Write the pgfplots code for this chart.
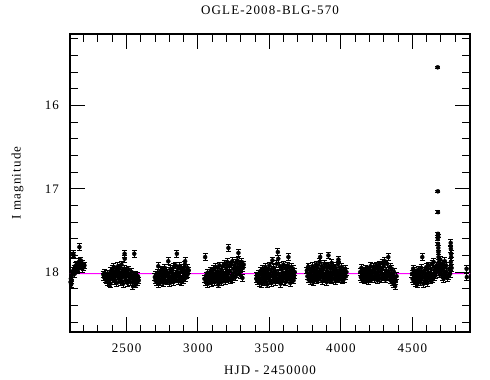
\documentclass[border=0pt]{standalone}
\usepackage{pgfplots}
\pgfplotsset{compat=1.18}
\usepackage{fontspec}
\setmainfont[LetterSpace=9]{Liberation Serif}
\definecolor{modelmag}{rgb}{1,0,1}
\begin{document}
\fontsize{13}{15}\selectfont
\begin{tikzpicture}
\useasboundingbox (-70pt,-48pt) rectangle (420pt,332pt);
\begin{axis}[
  at={(0pt,0pt)}, anchor=south west,
  scale only axis, width=400pt, height=298pt,
  xmin=2104, xmax=4904, ymin=15.14, ymax=18.72, y dir=reverse,
  xtick={2500,3000,3500,4000,4500},
  minor xtick={2200,2300,2400,2600,2700,2800,2900,3100,3200,3300,3400,3600,3700,3800,3900,4100,4200,4300,4400,4600,4700,4800},
  ytick={16,17,18},
  minor ytick={15.2,15.4,15.6,15.8,16.2,16.4,16.6,16.8,17.2,17.4,17.6,17.8,18.2,18.4,18.6},
  tick align=inside, xtick pos=both, ytick pos=both,
  major tick length=15pt, minor tick length=7.5pt,
  axis line style={line width=1.6pt},
  every tick/.style={black, line width=1pt},
  /pgf/number format/assume math mode=true,
  /pgf/number format/set thousands separator={},
  xticklabel style={yshift=-7pt},
  yticklabel style={xshift=-6.5pt},
  clip=true,
]
% model
\addplot[modelmag, line width=1pt] coordinates {(2104,18.02) (4676,18.02) (4677,17.88) (4681,17.88) (4682,18.02) (4904,18.02)};
% baseline photometry
\addplot[only marks, mark=*, mark size=2pt, black,
  error bars/.cd, y dir=both, y fixed=0.04,
  error bar style={line width=1pt, black},
  error mark options={rotate=90, mark size=2.5pt, line width=1pt, black}]
 table[row sep=\\, x=x, y=y] {x y\\
2108 18.12\\ 2110 18.08\\ 2112 18.15\\ 2114 18.05\\ 2116 18.10\\ 2119 18.03\\ 2122 17.99\\ 2126 17.78\\ 2129 17.80\\ 2133 17.96\\ 2137 18.02\\ 2140 17.93\\ 2145 17.97\\ 2150 17.91\\ 2155 17.95\\ 2158 17.98\\ 2165 17.88\\ 2170 17.70\\ 2175 17.93\\ 2180 17.86\\ 2185 17.92\\ 2190 17.96\\ 2195 17.90\\ 2200 17.94\\ 2205 17.92\\
2338 18.03\\ 2342 18.06\\ 2346 18.01\\ 2350 18.08\\ 2354 18.04\\ 2358 18.10\\ 2362 18.05\\ 2366 18.12\\ 2370 18.02\\ 2374 18.07\\ 2378 18.13\\ 2382 18.04\\ 2386 18.14\\ 2390 17.99\\ 2395 18.06\\ 2400 17.96\\ 2404 18.09\\ 2408 18.03\\ 2412 17.94\\ 2416 18.11\\ 2420 18.00\\ 2424 18.05\\ 2428 17.97\\ 2432 18.13\\ 2436 18.02\\ 2440 17.93\\ 2444 18.08\\ 2448 18.01\\ 2452 17.95\\ 2456 18.12\\ 2460 18.04\\ 2464 17.91\\ 2468 18.07\\ 2472 17.98\\ 2476 18.14\\ 2480 18.03\\ 2484 17.96\\ 2486 17.78\\ 2487 17.84\\ 2490 18.06\\ 2494 18.10\\ 2498 17.99\\ 2502 18.05\\ 2506 18.13\\ 2510 18.02\\ 2515 17.97\\ 2520 18.09\\ 2525 18.04\\ 2530 18.12\\ 2535 18.00\\ 2540 18.07\\ 2545 18.17\\ 2550 18.05\\ 2554 17.78\\ 2558 18.10\\ 2562 18.03\\ 2566 18.15\\ 2570 18.08\\ 2575 18.12\\ 2580 18.05\\ 2585 18.10\\
2698 18.06\\ 2702 18.10\\ 2706 18.03\\ 2710 18.12\\ 2714 18.07\\ 2718 18.01\\ 2722 17.93\\ 2724 18.14\\ 2728 18.05\\ 2732 18.09\\ 2736 17.99\\ 2740 18.12\\ 2744 18.04\\ 2748 18.08\\ 2752 17.97\\ 2756 18.13\\ 2760 18.02\\ 2764 18.06\\ 2768 17.95\\ 2772 18.10\\ 2776 18.03\\ 2780 17.99\\ 2784 18.11\\ 2788 18.05\\ 2792 17.87\\ 2796 18.08\\ 2800 18.01\\ 2804 18.13\\ 2808 17.96\\ 2812 18.06\\ 2816 18.10\\ 2820 17.98\\ 2824 18.04\\ 2828 18.12\\ 2832 17.94\\ 2836 18.07\\ 2840 18.02\\ 2844 17.92\\ 2848 18.09\\ 2852 17.78\\ 2856 18.03\\ 2860 17.96\\ 2864 18.11\\ 2868 18.05\\ 2872 17.93\\ 2876 18.08\\ 2880 18.00\\ 2884 18.12\\ 2888 17.95\\ 2892 18.06\\ 2896 18.10\\ 2900 17.97\\ 2904 18.03\\ 2908 17.91\\ 2910 17.87\\ 2914 18.07\\ 2918 17.99\\ 2922 18.04\\ 2926 17.95\\ 2930 18.02\\ 2935 17.98\\
3045 18.08\\ 3050 17.82\\ 3054 18.12\\ 3058 18.04\\ 3062 18.10\\ 3066 18.01\\ 3070 18.14\\ 3074 18.06\\ 3078 18.11\\ 3082 18.03\\ 3086 18.09\\ 3090 17.98\\ 3094 18.13\\ 3098 18.05\\ 3102 18.00\\ 3106 18.10\\ 3110 17.96\\ 3114 18.07\\ 3118 18.12\\ 3122 18.02\\ 3126 17.94\\ 3130 18.08\\ 3134 18.04\\ 3138 17.99\\ 3142 18.15\\ 3146 18.06\\ 3150 17.92\\ 3154 18.10\\ 3158 18.03\\ 3162 17.97\\ 3166 18.12\\ 3170 18.05\\ 3174 17.93\\ 3178 18.08\\ 3182 18.01\\ 3186 17.90\\ 3190 18.11\\ 3194 18.04\\ 3198 17.95\\ 3202 18.09\\ 3206 17.88\\ 3210 18.02\\ 3213 17.71\\ 3216 18.07\\ 3220 17.93\\ 3224 17.99\\ 3228 18.10\\ 3232 17.91\\ 3236 18.04\\ 3240 17.87\\ 3244 18.08\\ 3248 17.96\\ 3252 18.01\\ 3256 17.92\\ 3260 18.06\\ 3264 17.89\\ 3268 17.98\\ 3272 18.03\\ 3276 17.86\\ 3280 17.94\\ 3283 17.77\\ 3287 18.00\\ 3291 17.90\\ 3295 17.97\\ 3299 18.04\\ 3303 17.93\\ 3307 17.88\\ 3311 18.07\\ 3315 17.95\\ 3320 17.91\\
3408 18.08\\ 3412 18.04\\ 3416 18.11\\ 3420 18.06\\ 3424 18.02\\ 3428 18.13\\ 3432 18.07\\ 3436 17.99\\ 3440 18.10\\ 3444 18.03\\ 3448 18.14\\ 3452 17.96\\ 3456 18.08\\ 3460 18.05\\ 3464 18.12\\ 3468 18.00\\ 3472 17.94\\ 3476 18.09\\ 3480 18.04\\ 3484 18.15\\ 3488 17.98\\ 3492 18.07\\ 3496 18.02\\ 3500 17.92\\ 3504 18.11\\ 3508 18.05\\ 3512 17.97\\ 3516 18.13\\ 3521 17.86\\ 3524 18.03\\ 3528 18.09\\ 3532 17.95\\ 3536 18.06\\ 3540 18.12\\ 3544 17.99\\ 3548 18.04\\ 3552 17.90\\ 3556 18.10\\ 3559 17.76\\ 3562 17.84\\ 3566 18.02\\ 3570 18.08\\ 3574 17.93\\ 3578 18.14\\ 3582 18.05\\ 3586 17.97\\ 3590 18.11\\ 3594 18.01\\ 3598 17.91\\ 3602 18.07\\ 3606 18.03\\ 3610 17.95\\ 3614 18.12\\ 3618 18.05\\ 3622 17.98\\ 3626 18.09\\ 3630 17.92\\ 3633 17.82\\ 3637 18.06\\ 3641 17.99\\ 3645 18.13\\ 3649 18.03\\ 3653 17.94\\ 3657 18.08\\ 3661 18.01\\ 3665 17.96\\ 3669 18.10\\ 3673 18.04\\ 3677 18.00\\
3762 17.98\\ 3766 18.05\\ 3770 17.94\\ 3774 18.09\\ 3778 18.02\\ 3782 17.96\\ 3786 18.11\\ 3790 18.04\\ 3794 17.99\\ 3798 18.08\\ 3802 17.93\\ 3806 18.12\\ 3810 18.03\\ 3814 17.97\\ 3818 18.07\\ 3822 18.01\\ 3826 17.91\\ 3830 18.10\\ 3834 18.05\\ 3838 17.95\\ 3842 18.09\\ 3846 18.02\\ 3850 17.88\\ 3855 17.82\\ 3858 18.06\\ 3862 18.00\\ 3866 17.93\\ 3870 18.11\\ 3874 18.04\\ 3878 17.97\\ 3882 18.08\\ 3886 17.90\\ 3890 18.02\\ 3894 18.06\\ 3898 17.94\\ 3902 18.12\\ 3906 17.99\\ 3910 18.05\\ 3913 17.80\\ 3916 17.92\\ 3920 18.09\\ 3924 18.03\\ 3928 17.96\\ 3932 18.10\\ 3936 17.89\\ 3940 18.04\\ 3944 18.00\\ 3948 17.93\\ 3952 18.08\\ 3956 18.02\\ 3960 17.95\\ 3964 18.11\\ 3968 18.05\\ 3972 17.98\\ 3976 18.07\\ 3980 17.91\\ 3983 17.85\\ 3987 18.03\\ 3991 18.09\\ 3995 17.97\\ 3999 18.06\\ 4003 18.01\\ 4007 17.94\\ 4011 18.10\\ 4015 18.04\\ 4019 17.99\\ 4023 18.08\\ 4027 18.02\\ 4031 17.96\\ 4035 18.05\\ 4039 18.00\\
4136 18.00\\ 4140 18.06\\ 4144 17.95\\ 4148 18.09\\ 4152 18.03\\ 4156 17.98\\ 4160 18.07\\ 4164 18.01\\ 4168 18.10\\ 4172 17.96\\ 4176 18.04\\ 4180 18.08\\ 4184 17.99\\ 4188 18.05\\ 4192 18.11\\ 4196 17.97\\ 4200 18.03\\ 4204 18.07\\ 4208 17.93\\ 4212 18.02\\ 4216 18.09\\ 4220 17.98\\ 4224 18.05\\ 4228 17.94\\ 4232 18.08\\ 4236 18.01\\ 4240 17.96\\ 4244 18.06\\ 4248 17.92\\ 4252 18.03\\ 4256 18.10\\ 4260 17.97\\ 4264 18.04\\ 4268 17.91\\ 4272 18.07\\ 4276 18.00\\ 4280 17.95\\ 4284 18.08\\ 4288 17.89\\ 4292 18.02\\ 4296 18.06\\ 4300 17.93\\ 4304 18.04\\ 4308 17.87\\ 4312 18.09\\ 4316 17.98\\ 4320 18.03\\ 4324 17.90\\ 4328 18.06\\ 4332 17.82\\ 4336 17.99\\ 4340 18.05\\ 4344 17.94\\ 4348 18.10\\ 4352 18.02\\ 4356 17.96\\ 4360 18.12\\ 4364 18.04\\ 4368 18.14\\ 4372 18.00\\ 4376 18.08\\ 4380 18.17\\ 4385 18.11\\ 4390 18.05\\
4498 18.02\\ 4502 18.08\\ 4506 17.96\\ 4510 18.11\\ 4514 18.04\\ 4518 17.99\\ 4522 18.13\\ 4526 18.06\\ 4530 18.01\\ 4534 18.15\\ 4538 18.07\\ 4542 17.97\\ 4546 18.10\\ 4550 18.03\\ 4554 18.12\\ 4558 18.05\\ 4562 17.95\\ 4566 18.09\\ 4570 17.82\\ 4574 18.02\\ 4578 18.14\\ 4582 18.06\\ 4586 17.98\\ 4590 18.11\\ 4594 18.04\\ 4598 17.94\\ 4602 18.08\\ 4606 18.13\\ 4610 18.01\\ 4614 17.92\\ 4618 18.07\\ 4622 18.03\\ 4626 18.10\\ 4630 17.96\\ 4634 18.05\\ 4638 17.90\\ 4642 18.09\\ 4646 18.02\\ 4650 17.88\\ 4654 18.06\\ 4658 17.97\\ 4662 18.04\\ 4666 17.93\\ 4670 18.00\\ 4674 17.95\\
4688 17.92\\ 4690 17.97\\ 4693 18.03\\ 4696 17.85\\ 4700 17.93\\ 4704 18.02\\ 4708 17.90\\ 4712 18.06\\ 4716 17.95\\ 4720 18.08\\ 4724 17.99\\ 4728 17.87\\ 4732 18.04\\ 4736 17.92\\ 4740 18.00\\ 4745 18.07\\ 4750 18.05\\ 4758 17.96\\ 4765 18.02\\ 4769 17.65\\ 4770 17.72\\ 4771 17.78\\ 4772 17.82\\ 4770 17.88\\ 4775 17.95\\ 4880 17.96\\ 4882 18.06\\
};
% event points
\addplot[only marks, mark=*, mark size=2pt, black,
  error bars/.cd, y dir=both, y explicit,
  error bar style={line width=1pt, black},
  error mark options={rotate=90, mark size=2.5pt, line width=1pt, black}]
 table[row sep=\\, x=x, y=y, y error=e] {x y e\\
4678 15.54 0.01\\ 4679 17.03 0.015\\ 4680 17.28 0.015\\ 4680 17.54 0.02\\ 4681 17.57 0.02\\ 4679 17.60 0.02\\ 4680 17.66 0.02\\ 4682 17.71 0.025\\ 4683 17.76 0.025\\ 4684 17.82 0.03\\ 4686 17.88 0.03\\
};
\end{axis}
\node at (200pt,322pt) {OGLE-2008-BLG-570};
\node at (200pt,-38pt) {HJD - 2450000};
\node[rotate=90] at (-52.5pt,149pt) {I magnitude};
\end{tikzpicture}
\end{document}
